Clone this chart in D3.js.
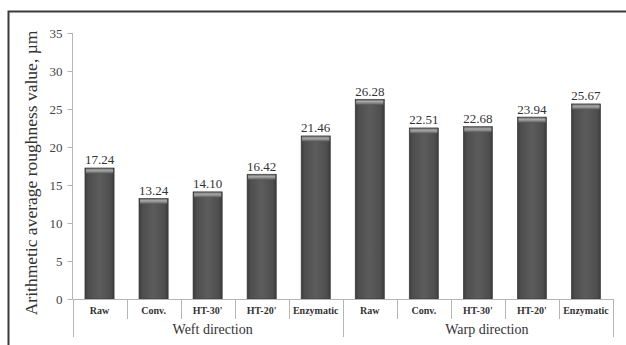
<!DOCTYPE html>
<html>
<head>
<meta charset="utf-8">
<script src="https://cdn.jsdelivr.net/npm/d3@7"></script>
<style>
  html, body { margin: 0; padding: 0; background: #fff; }
  svg { display: block; font-family: "Liberation Serif", "Times New Roman", serif; }
</style>
</head>
<body>
<svg id="chart" width="626" height="345"></svg>
<script>
// Roughness values per treatment, weft then warp direction
const groups = ["Weft direction", "Warp direction"];
const treatments = ["Raw", "Conv.", "HT-30'", "HT-20'", "Enzymatic"];
const weftValues = [17.24, 13.24, 14.10, 16.42, 21.46];
const warpValues = [26.28, 22.51, 22.68, 23.94, 25.67];
const yTicks = [0, 5, 10, 15, 20, 25, 30, 35];
const yTitle = "Arithmetic average roughness value, µm";

const rows = [];
groups.forEach((g, gi) => {
  const vals = gi === 0 ? weftValues : warpValues;
  treatments.forEach((t, ti) => rows.push({ key: g + "|" + t, group: g, label: t, value: vals[ti] }));
});

const svg = d3.select("#chart");
const W = 626, H = 345;
const m = { left: 72.5, right: 13, top: 33, bottom: 46 };
const plotBottom = H - m.bottom;

const x = d3.scaleBand().domain(rows.map(d => d.key)).range([m.left, W - m.right]).paddingInner(0.46).paddingOuter(0.23);
const y = d3.scaleLinear().domain([0, 35]).range([plotBottom, m.top]);

// Outer frame (left and top edges)
svg.append("path")
  .attr("d", `M8.5,${H} V11.5 H${W}`)
  .attr("fill", "none").attr("stroke", "#3a3a3a").attr("stroke-width", 2);

// Bar gradients
const defs = svg.append("defs");
const body = defs.append("linearGradient").attr("id", "barBody").attr("x1", 0).attr("x2", 1).attr("y1", 0).attr("y2", 0);
[[0, "#3c3c3c"], [0.12, "#4e4e4e"], [0.5, "#5c5c5c"], [0.88, "#4e4e4e"], [1, "#3a3a3a"]]
  .forEach(([o, c]) => body.append("stop").attr("offset", o).attr("stop-color", c));
const cap = defs.append("linearGradient").attr("id", "barCap").attr("x1", 0).attr("x2", 0).attr("y1", 0).attr("y2", 1);
[[0, "#6a6a6a"], [0.35, "#a8a8a8"], [0.65, "#8a8a8a"], [1, "#5a5a5a"]]
  .forEach(([o, c]) => cap.append("stop").attr("offset", o).attr("stop-color", c));

// Y axis
const yAxis = d3.axisLeft(y).tickValues(yTicks).tickSize(5).tickPadding(5).tickFormat(d3.format("d"));
const ga = svg.append("g").attr("transform", `translate(${m.left},0)`).call(yAxis);
ga.select(".domain").attr("stroke", "#b5b5b5").attr("d", `M0,${m.top}V${plotBottom}`);
ga.selectAll(".tick line").attr("stroke", "#b5b5b5");
ga.selectAll(".tick text").attr("fill", "#444").style("font-size", "13px").style("font-family", "Liberation Serif, serif");

// Bars
const bars = svg.append("g").selectAll("g").data(rows).join("g");
bars.append("rect")
  .attr("x", d => x(d.key)).attr("width", x.bandwidth())
  .attr("y", d => y(d.value)).attr("height", d => plotBottom - y(d.value))
  .attr("fill", "url(#barBody)").attr("stroke", "#3a3a3a").attr("stroke-width", 0.6);
bars.append("rect")
  .attr("x", d => x(d.key) + 1).attr("width", x.bandwidth() - 2)
  .attr("y", d => y(d.value) + 0.5).attr("height", 5)
  .attr("fill", "url(#barCap)");

// Value labels
bars.append("text")
  .attr("x", d => x(d.key) + x.bandwidth() / 2)
  .attr("y", d => y(d.value) - 3.5)
  .attr("text-anchor", "middle").attr("fill", "#333")
  .style("font-size", "13px")
  .text(d => d.value.toFixed(2));

// X axis: baseline, category dividers, group dividers
const step = (W - m.right - m.left) / rows.length;
const xa = svg.append("g").attr("stroke", "#b5b5b5").attr("stroke-width", 1);
xa.append("line").attr("x1", m.left).attr("x2", W - m.right).attr("y1", plotBottom + 0.5).attr("y2", plotBottom + 0.5);
d3.range(rows.length + 1).forEach(i => {
  const xx = Math.round(m.left + i * step) + 0.5;
  const isGroup = i % treatments.length === 0;
  xa.append("line").attr("x1", xx).attr("x2", xx)
    .attr("y1", plotBottom).attr("y2", isGroup ? H - 8 : plotBottom + 20);
});

// Category labels
svg.append("g").selectAll("text").data(rows).join("text")
  .attr("x", d => x(d.key) + x.bandwidth() / 2)
  .attr("y", plotBottom + 15)
  .attr("text-anchor", "middle").attr("fill", "#333")
  .style("font-size", "10px").style("font-weight", "bold")
  .text(d => d.label);

// Group labels
svg.append("g").selectAll("text").data(groups).join("text")
  .attr("x", (d, i) => m.left + (i + 0.5) * step * treatments.length + 5 + i * 4)
  .attr("y", H - 11)
  .attr("text-anchor", "middle").attr("fill", "#333")
  .style("font-size", "14px")
  .text(d => d);

// Y axis title
svg.append("text")
  .attr("transform", `translate(37,${(m.top + plotBottom) / 2 + 7}) rotate(-90)`)
  .attr("text-anchor", "middle").attr("fill", "#333")
  .style("font-size", "17.5px")
  .text(yTitle);
</script>
</body>
</html>
